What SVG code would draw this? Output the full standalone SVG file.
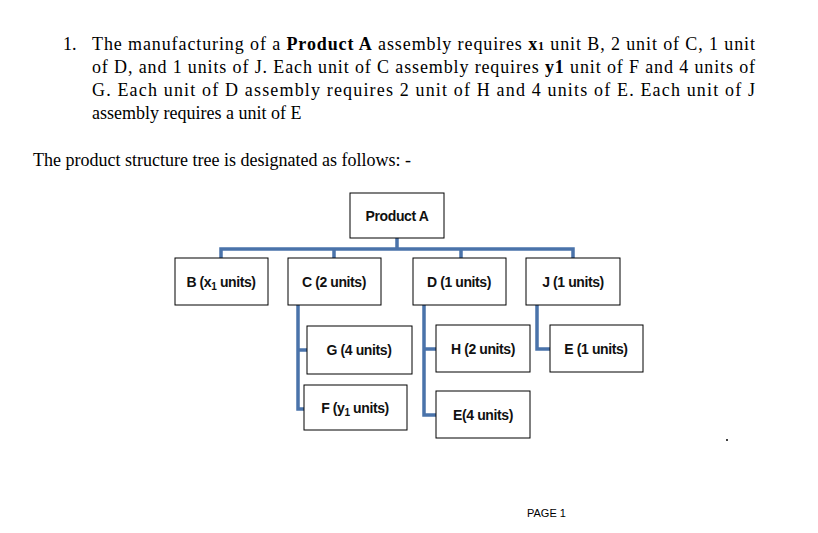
<svg xmlns="http://www.w3.org/2000/svg" width="818" height="533" viewBox="0 0 818 533">
<style>
.t{font-family:"Liberation Serif",serif;font-size:18px;fill:#000}
.n{font-family:"Liberation Sans",sans-serif;font-size:14px;font-weight:bold;fill:#111;text-anchor:middle;letter-spacing:-0.4px}
.b{fill:#fff;stroke:#000;stroke-width:1}
.c{fill:none;stroke:#4a73aa;stroke-width:3.5}
</style>
<rect width="818" height="533" fill="#fff"/>
<text class="t" x="63" y="50">1.</text>
<text class="t" x="92" y="50" textLength="663" lengthAdjust="spacing">The manufacturing of a <tspan font-weight="bold">Product A</tspan> assembly requires <tspan font-weight="bold">x<tspan font-size="12">1</tspan></tspan> unit B, 2 unit of C, 1 unit</text>
<text class="t" x="92" y="73" textLength="663" lengthAdjust="spacing">of D, and 1 units of J. Each unit of C assembly requires <tspan font-weight="bold">y1</tspan> unit of F and 4 units of</text>
<text class="t" x="92" y="96" textLength="663" lengthAdjust="spacing">G. Each unit of D assembly requires 2 unit of H and 4 units of E. Each unit of J</text>
<text class="t" x="92" y="119">assembly requires a unit of E</text>
<text class="t" x="33" y="166">The product structure tree is designated as follows: -</text>
<g id="connectors">
<path class="c" d="M397 238V249M221 260V249H573V260M334 249V260M461 249V260"/>
<path class="c" d="M298 305V409H306M298 350H309"/>
<path class="c" d="M424 305V415H438M424 349H438"/>
<path class="c" d="M537 305V349H552"/>
</g>
<g id="productA"><rect class="b" x="350" y="193" width="94" height="45"/><text class="n" x="397" y="221">Product A</text></g>
<g id="B"><rect class="b" x="175" y="258" width="93" height="47"/><text class="n" x="221" y="287">B (x<tspan font-size="10" dy="3">1</tspan><tspan dy="-3"> units)</tspan></text></g>
<g id="C"><rect class="b" x="288" y="258" width="93" height="47"/><text class="n" x="334" y="287">C (2 units)</text></g>
<g id="D"><rect class="b" x="413" y="258" width="93" height="47"/><text class="n" x="459" y="287">D (1 units)</text></g>
<g id="J"><rect class="b" x="526" y="258" width="94" height="47"/><text class="n" x="573" y="287">J (1 units)</text></g>
<g id="G"><rect class="b" x="307" y="326" width="105" height="48"/><text class="n" x="359" y="355">G (4 units)</text></g>
<g id="F"><rect class="b" x="304" y="385" width="103" height="45"/><text class="n" x="355" y="413">F (y<tspan font-size="10" dy="3">1</tspan><tspan dy="-3"> units)</tspan></text></g>
<g id="H"><rect class="b" x="436" y="325" width="94" height="47"/><text class="n" x="483" y="354">H (2 units)</text></g>
<g id="E4"><rect class="b" x="436" y="391" width="94" height="47"/><text class="n" x="483" y="420">E(4 units)</text></g>
<g id="E1"><rect class="b" x="550" y="325" width="93" height="47"/><text class="n" x="596" y="354">E (1 units)</text></g>
<circle cx="727" cy="440" r="1" fill="#000"/>
<text x="527" y="517" style="font-family:'Liberation Sans',sans-serif;font-size:11px">PAGE 1</text>
</svg>
